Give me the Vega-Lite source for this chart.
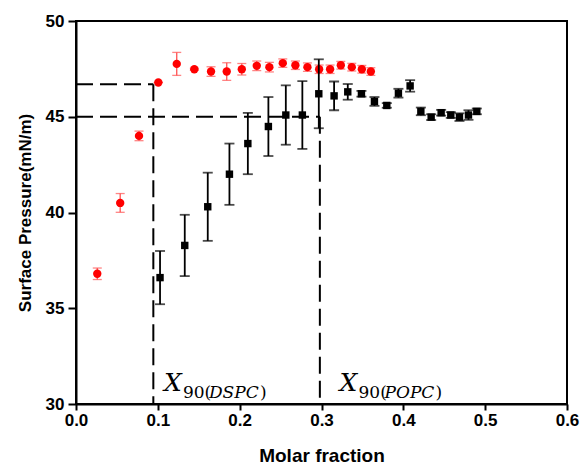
{
  "$schema": "https://vega.github.io/schema/vega-lite/v6.json",
  "width": 491,
  "height": 383,
  "autosize": {"type": "none"},
  "padding": {"left": 76, "top": 21, "right": 13, "bottom": 62},
  "background": "white",
  "config": {
    "view": {"stroke": "black", "strokeWidth": 2},
    "font": "Liberation Sans"
  },
  "datasets": {
    "red": [
      {"x": 0.026, "y": 36.8, "err": 0.3},
      {"x": 0.054, "y": 40.5, "err": 0.49},
      {"x": 0.077, "y": 44.0, "err": 0.25},
      {"x": 0.1006, "y": 46.79, "err": 0.0},
      {"x": 0.1231, "y": 47.76, "err": 0.6},
      {"x": 0.1446, "y": 47.48, "err": 0.05},
      {"x": 0.165, "y": 47.36, "err": 0.25},
      {"x": 0.1842, "y": 47.36, "err": 0.46},
      {"x": 0.2026, "y": 47.48, "err": 0.3},
      {"x": 0.2209, "y": 47.66, "err": 0.25},
      {"x": 0.2363, "y": 47.59, "err": 0.25},
      {"x": 0.2527, "y": 47.8, "err": 0.22},
      {"x": 0.2681, "y": 47.69, "err": 0.22},
      {"x": 0.2828, "y": 47.59, "err": 0.22},
      {"x": 0.2971, "y": 47.48, "err": 0.22},
      {"x": 0.3105, "y": 47.48, "err": 0.22},
      {"x": 0.3236, "y": 47.69, "err": 0.2},
      {"x": 0.337, "y": 47.59, "err": 0.2},
      {"x": 0.3493, "y": 47.48, "err": 0.2},
      {"x": 0.3603, "y": 47.36, "err": 0.2}
    ],
    "black": [
      {"x": 0.1027, "y": 36.6, "err": 1.39},
      {"x": 0.1329, "y": 38.28, "err": 1.6},
      {"x": 0.161, "y": 40.3, "err": 1.78},
      {"x": 0.1875, "y": 42.0, "err": 1.6},
      {"x": 0.21, "y": 43.6, "err": 1.6},
      {"x": 0.2351, "y": 44.49, "err": 1.54},
      {"x": 0.2564, "y": 45.09, "err": 1.55},
      {"x": 0.2766, "y": 45.09, "err": 1.77},
      {"x": 0.2967, "y": 46.2, "err": 1.8},
      {"x": 0.3154, "y": 46.09, "err": 0.75},
      {"x": 0.3321, "y": 46.3, "err": 0.41},
      {"x": 0.3488, "y": 46.2, "err": 0.15},
      {"x": 0.3647, "y": 45.8, "err": 0.23},
      {"x": 0.3798, "y": 45.59, "err": 0.12},
      {"x": 0.394, "y": 46.23, "err": 0.23},
      {"x": 0.4083, "y": 46.61, "err": 0.3},
      {"x": 0.4214, "y": 45.28, "err": 0.2},
      {"x": 0.434, "y": 44.98, "err": 0.15},
      {"x": 0.4462, "y": 45.21, "err": 0.15},
      {"x": 0.458, "y": 45.09, "err": 0.15},
      {"x": 0.4686, "y": 44.98, "err": 0.2},
      {"x": 0.4796, "y": 45.09, "err": 0.25},
      {"x": 0.4898, "y": 45.28, "err": 0.15}
    ],
    "lines": [
      {"x": 0, "x2": 0.0945, "y": 46.7, "y2": 46.7},
      {"x": 0.0945, "x2": 0.0945, "y": 46.7, "y2": 30},
      {"x": 0, "x2": 0.298, "y": 45, "y2": 45},
      {"x": 0.298, "x2": 0.298, "y": 45, "y2": 30}
    ],
    "labels": [
      {"x": 0.1075, "y": 30.68, "main": "X", "num": "90(", "name": "DSPC", "close": ")"},
      {"x": 0.322, "y": 30.68, "main": "X", "num": "90(", "name": "POPC", "close": ")"}
    ]
  },
  "encoding": {
    "x": {
      "field": "x", "type": "quantitative",
      "scale": {"domain": [0, 0.6], "nice": false},
      "axis": {
        "values": [0, 0.1, 0.2, 0.3, 0.4, 0.5, 0.6],
        "format": ".1f",
        "grid": false,
        "domainColor": "black", "domainWidth": 2,
        "tickColor": "black", "tickWidth": 2, "tickSize": 6,
        "labelFont": "Liberation Sans", "labelFontWeight": "bold", "labelFontSize": 17, "labelColor": "black",
        "labelPadding": 2, "labelFlush": false,
        "titleFont": "Liberation Sans", "titleFontWeight": "bold", "titleFontSize": 19, "titleColor": "black",
        "titlePadding": 18
      },
      "title": "Molar fraction"
    },
    "y": {
      "field": "y", "type": "quantitative",
      "scale": {"domain": [30, 50], "nice": false},
      "axis": {
        "values": [30, 35, 40, 45, 50],
        "grid": false,
        "domainColor": "black", "domainWidth": 2,
        "tickColor": "black", "tickWidth": 2, "tickSize": 8,
        "labelFont": "Liberation Sans", "labelFontWeight": "bold", "labelFontSize": 17, "labelColor": "black",
        "labelPadding": 4, "labelFlush": false,
        "titleFont": "Liberation Sans", "titleFontWeight": "bold", "titleFontSize": 17, "titleColor": "black",
        "titlePadding": 11
      },
      "title": "Surface Pressure(mN/m)"
    }
  },
  "layer": [
    {
      "data": {"name": "lines"},
      "mark": {"type": "rule", "strokeDash": [17, 7], "strokeWidth": 2, "color": "black"},
      "encoding": {
        "x2": {"field": "x2"},
        "y2": {"field": "y2"}
      }
    },
    {
      "data": {"name": "red"},
      "mark": {"type": "errorbar", "ticks": {"size": 9, "strokeWidth": 1.3}, "color": "#ff5050", "thickness": 1.3},
      "encoding": {
        "yError": {"field": "err"}
      }
    },
    {
      "data": {"name": "red"},
      "mark": {"type": "point", "shape": "circle", "filled": true, "size": 70, "color": "#ff0000", "opacity": 1},
      "encoding": {}
    },
    {
      "data": {"name": "black"},
      "mark": {"type": "errorbar", "ticks": {"size": 10, "strokeWidth": 1.8}, "color": "black", "thickness": 1.8},
      "encoding": {
        "yError": {"field": "err"}
      }
    },
    {
      "data": {"name": "black"},
      "mark": {"type": "point", "shape": "square", "filled": true, "size": 55, "color": "black", "opacity": 1},
      "encoding": {}
    },
    {
      "data": {"name": "labels"},
      "mark": {"type": "text", "align": "left", "baseline": "alphabetic", "font": "DejaVu Serif", "fontStyle": "italic", "fontSize": 25, "color": "black"},
      "encoding": {
        "text": {"field": "main"}
      }
    },
    {
      "data": {"name": "labels"},
      "mark": {"type": "text", "align": "left", "baseline": "alphabetic", "font": "DejaVu Serif", "fontSize": 17, "color": "black", "dx": 19, "dy": 7},
      "encoding": {
        "text": {"field": "num"}
      }
    },
    {
      "data": {"name": "labels"},
      "mark": {"type": "text", "align": "left", "baseline": "alphabetic", "font": "DejaVu Serif", "fontStyle": "italic", "fontSize": 17, "color": "black", "dx": 45, "dy": 7},
      "encoding": {
        "text": {"field": "name"}
      }
    },
    {
      "data": {"name": "labels"},
      "mark": {"type": "text", "align": "left", "baseline": "alphabetic", "font": "DejaVu Serif", "fontSize": 17, "color": "black", "dx": 96, "dy": 7},
      "encoding": {
        "text": {"field": "close"}
      }
    }
  ]
}
